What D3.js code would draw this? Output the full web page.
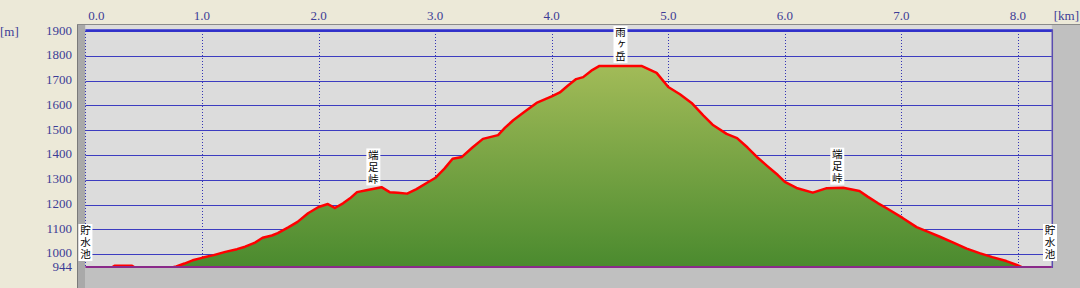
<!DOCTYPE html>
<html>
<head>
<meta charset="utf-8">
<script src="https://d3js.org/d3.v7.min.js"></script>
<style>
  body { margin: 0; background-color: #ece9d8; }
  svg { display: block; }
  .tick-label { font-family: "Liberation Serif", "DejaVu Serif", serif; font-size: 13px; fill: #3c3c96; }
  .place { font-family: "Noto Sans CJK JP", sans-serif; font-size: 10.5px; fill: #000;
           writing-mode: vertical-rl; text-orientation: upright; letter-spacing: 1.5px; }
</style>
</head>
<body>
<svg id="chart" width="1080" height="288"></svg>
<script>
// course profile: distance [km] and elevation [m]
var distKm = [0, 0.22, 0.25, 0.40, 0.43, 0.72, 0.78, 0.85, 0.92, 1.0, 1.1, 1.2, 1.3, 1.37, 1.45, 1.52, 1.6, 1.65,
  1.74, 1.82, 1.91, 2.0, 2.08, 2.14, 2.21, 2.27, 2.33, 2.41, 2.54, 2.61, 2.68, 2.76, 2.84, 2.92, 3.0, 3.08,
  3.15, 3.23, 3.32, 3.41, 3.54, 3.6, 3.67, 3.77, 3.87, 4.0, 4.07, 4.14, 4.21, 4.27, 4.34, 4.41, 4.77, 4.9,
  5.0, 5.1, 5.2, 5.3, 5.38, 5.5, 5.59, 5.68, 5.76, 5.85, 5.94, 6.0, 6.1, 6.24, 6.36, 6.5, 6.64, 6.71, 6.8,
  6.87, 7.01, 7.13, 7.23, 7.33, 7.45, 7.56, 7.67, 7.78, 7.9, 7.99, 8.05, 8.29];
var elevM = [944, 944, 953, 953, 944, 944, 950, 962, 975, 985, 996, 1009, 1020, 1030, 1045, 1066, 1075, 1085,
  1108, 1130, 1165, 1190, 1202, 1186, 1205, 1225, 1250, 1258, 1270, 1250, 1248, 1244, 1262, 1285, 1307, 1345,
  1385, 1392, 1430, 1465, 1480, 1510, 1540, 1575, 1610, 1636, 1652, 1680, 1706, 1714, 1740, 1759, 1759, 1731,
  1674, 1645, 1610, 1560, 1522, 1485, 1468, 1430, 1392, 1355, 1319, 1291, 1267, 1248, 1266, 1268, 1255, 1232, 1205,
  1186, 1146, 1109, 1090, 1070, 1045, 1022, 1004, 988, 972, 956, 944, 944];

// axis ticks
var xTicks = [0, 1, 2, 3, 4, 5, 6, 7, 8];
var yTicks = [944, 1000, 1100, 1200, 1300, 1400, 1500, 1600, 1700, 1800, 1900];

// named points along the route
var placeNames = ["貯水池", "端足峠", "雨ヶ岳", "端足峠", "貯水池"];
var placeKm = [0, 2.47, 4.59, 6.45, 8.29];
var placeElev = [944, 1265, 1759, 1268, 944];

var svg = d3.select("#chart");
var plotL = 85.4, plotR = 1051.8, plotT = 31, plotB = 268;

var x = d3.scaleLinear().domain([0, 8.29]).range([plotL, plotR]);
var y = d3.scaleLinear().domain([944, 1900]).range([plotB, plotT]);

// grey frame
svg.append("rect").attr("x", 77).attr("y", 24).attr("width", 1003).attr("height", 264).attr("fill", "#c0c0c0");
svg.append("rect").attr("x", 77).attr("y", 24).attr("width", 8).attr("height", 264).attr("fill", "#a9a9a9");
svg.append("line").attr("x1", 77.5).attr("x2", 77.5).attr("y1", 24).attr("y2", 288).attr("stroke", "#7a7a7a");
svg.append("line").attr("x1", 77).attr("x2", 1080).attr("y1", 24.5).attr("y2", 24.5).attr("stroke", "#8a8a8a");
// plot background
svg.append("rect").attr("x", plotL).attr("y", 25).attr("width", plotR - plotL).attr("height", plotB - 25).attr("fill", "#dcdcdc");

var data = distKm.map(function(d, i) { return { km: d, m: elevM[i] }; });

var defs = svg.append("defs");
// fill gradient
var grad = defs.append("linearGradient")
  .attr("id", "fillGrad").attr("gradientUnits", "userSpaceOnUse")
  .attr("x1", 0).attr("x2", 0).attr("y1", y(1760)).attr("y2", y(944));
grad.append("stop").attr("offset", "0%").attr("stop-color", "#a2bb58");
grad.append("stop").attr("offset", "100%").attr("stop-color", "#4a8a2e");
// keep the red line above the baseline
defs.append("clipPath").attr("id", "lineClip").append("rect")
  .attr("x", plotL).attr("y", 25).attr("width", plotR - plotL).attr("height", 266 - 25);

// vertical dotted grid
svg.append("g").selectAll("line").data(xTicks).enter().append("line")
  .attr("x1", function(d) { return Math.round(x(d)) + 0.5; })
  .attr("x2", function(d) { return Math.round(x(d)) + 0.5; })
  .attr("y1", plotT).attr("y2", plotB)
  .attr("stroke", "#3434b4").attr("stroke-dasharray", "1,2");

// horizontal grid
svg.append("g").selectAll("line").data(yTicks.slice(1)).enter().append("line")
  .attr("x1", plotL).attr("x2", plotR)
  .attr("y1", function(d) { return Math.round(y(d)) + 0.5; })
  .attr("y2", function(d) { return Math.round(y(d)) + 0.5; })
  .attr("stroke", "#3c3cc0").attr("stroke-width", 1);

// top border
svg.append("line").attr("x1", plotL).attr("x2", plotR + 1).attr("y1", 30.5).attr("y2", 30.5)
  .attr("stroke", "#3030cc").attr("stroke-width", 2.5);
// right border
svg.append("line").attr("x1", plotR + 0.5).attr("x2", plotR + 0.5).attr("y1", 30).attr("y2", plotB)
  .attr("stroke", "#5a4cb0").attr("stroke-width", 1.5);

// profile area
svg.append("path").datum(data)
  .attr("d", d3.area().x(function(d) { return x(d.km); }).y0(plotB).y1(function(d) { return y(d.m); }))
  .attr("fill", "url(#fillGrad)");

// profile line
svg.append("path").datum(data)
  .attr("clip-path", "url(#lineClip)")
  .attr("d", d3.line().x(function(d) { return x(d.km); }).y(function(d) { return y(d.m); }))
  .attr("fill", "none").attr("stroke", "#ff0000").attr("stroke-width", 2.5).attr("stroke-linejoin", "round");

// baseline
svg.append("line").attr("x1", plotL).attr("x2", plotR).attr("y1", 267).attr("y2", 267)
  .attr("stroke", "#8a2a8a").attr("stroke-width", 2);

// y labels
svg.append("g").selectAll("text").data(yTicks).enter().append("text")
  .attr("class", "tick-label")
  .attr("x", 72).attr("text-anchor", "end").attr("dominant-baseline", "central")
  .attr("y", function(d) { return d === 944 ? y(d) - 2 : (d === 1000 ? y(d) - 2 : y(d) - 1); })
  .text(function(d) { return d; });
svg.append("text").attr("class", "tick-label").attr("x", 0).attr("y", 31)
  .attr("dominant-baseline", "central").text("[m]");

// x labels
svg.append("g").selectAll("text").data(xTicks).enter().append("text")
  .attr("class", "tick-label")
  .attr("x", function(d) { return d === 0 ? x(d) + 11 : x(d); })
  .attr("y", 15).attr("text-anchor", "middle").attr("dominant-baseline", "central")
  .text(function(d) { return d3.format(".1f")(d); });
svg.append("text").attr("class", "tick-label").attr("x", 1079).attr("y", 15)
  .attr("text-anchor", "end").attr("dominant-baseline", "central").text("[km]");

// place labels, written top to bottom
placeNames.forEach(function(name, i) {
  var cx = Math.min(Math.max(x(placeKm[i]), 84), 1050);
  var bot = y(placeElev[i]) - (i === 0 || i === 4 ? 7 : 3);
  var h = 37, w = 14;
  var g = svg.append("g");
  g.append("rect").attr("x", cx - w / 2).attr("y", bot - h).attr("width", w).attr("height", h).attr("fill", "#ffffff");
  g.append("text").attr("class", "place")
    .attr("x", cx).attr("y", bot - h + 1)
    .text(name);
});
</script>
</body>
</html>
